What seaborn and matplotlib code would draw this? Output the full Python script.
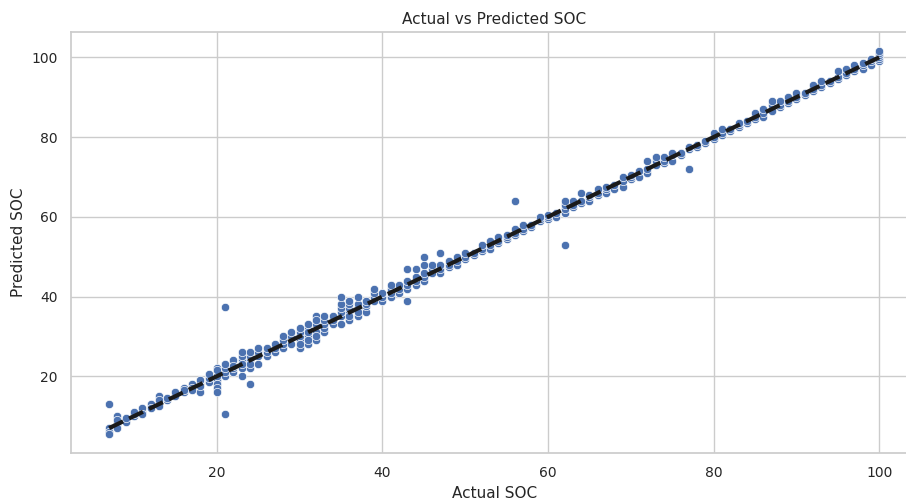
import matplotlib
matplotlib.use("Agg")
import matplotlib.pyplot as plt
import pandas as pd
import seaborn as sns

actual_soc = (
    [7] * 4 + [8] * 4 + [9] * 3 + [10] * 3 + [11] * 3 + [12] * 3 + [13] * 4
    + [14] * 2 + [15] * 2 + [16] * 3 + [17] * 3 + [18] * 4 + [19] * 4
    + [20] * 8 + [21] * 6 + [22] * 5 + [23] * 6 + [24] * 6 + [25] * 4
    + [26] * 3 + [27] * 3 + [28] * 4 + [29] * 3 + [30] * 6 + [31] * 6
    + [32] * 6 + [33] * 5 + [34] * 3 + [35] * 6 + [36] * 6 + [37] * 5
    + [38] * 4 + [39] * 4 + [40] * 3 + [41] * 4 + [42] * 3 + [43] * 5
    + [44] * 4 + [45] * 5 + [46] * 3 + [47] * 4 + [48] * 3 + [49] * 3
    + [50] * 3 + [51] * 2 + [52] * 3 + [53] * 3 + [54] * 3 + [55] * 3
    + [56] * 4 + [57] * 3 + [58] * 2 + [59] * 3 + [60] * 3 + [61] * 2
    + [62] * 5 + [63] * 3 + [64] * 3 + [65] * 3 + [66] * 3 + [67] * 3
    + [68] * 2 + [69] * 3 + [70] * 3 + [71] * 2 + [72] * 3 + [73] * 3
    + [74] * 3 + [75] * 3 + [76] * 2 + [77] * 3 + [78] * 2 + [79] * 2
    + [80] * 3 + [81] * 3 + [82] * 2 + [83] * 3 + [84] * 2 + [85] * 3
    + [86] * 3 + [87] * 3 + [88] * 3 + [89] * 3 + [90] * 3 + [91] * 2
    + [92] * 3 + [93] * 3 + [94] * 2 + [95] * 3 + [96] * 3 + [97] * 3
    + [98] * 3 + [99] * 3 + [100] * 6
)

predicted_soc = [
    13, 7, 6, 5.5,
    10, 8, 7, 9,
    9, 8.5, 9.5,
    10, 10.5, 11,
    11, 12, 10.5,
    12.5, 13, 12,
    15, 13, 12.5, 14,
    14, 14.5,
    15, 16,
    16, 17, 16.5,
    18, 17, 16.5,
    16, 18, 19, 17.5,
    20, 18.5, 19.5, 20.5,
    22, 21, 19, 18, 17, 16, 20, 21.5,
    37.3, 10.5, 20, 21, 22, 23,
    21, 22, 23, 24, 22.5,
    20, 22, 24, 25, 26, 23,
    18, 22, 24, 25, 26, 23,
    23, 25, 26, 27,
    25, 26, 27,
    26, 27, 28,
    27, 28, 29, 30,
    28, 30, 31,
    27, 29, 30, 31, 32, 28,
    28, 30, 32, 33, 29, 31,
    29, 31, 33, 35, 30, 34,
    31, 32, 33, 34, 35,
    33, 34, 35,
    33, 35, 36, 37, 38, 40,
    34, 36, 37, 38, 39, 35,
    35, 37, 38, 40, 36,
    36, 37.5, 38, 39,
    39, 40, 41, 42,
    39, 40, 41,
    40, 41, 42, 43,
    41, 42, 43,
    39, 42, 43, 44, 47,
    43, 44, 45, 47,
    44, 45, 46, 48, 50,
    46, 47, 48,
    46, 47, 48, 51,
    47.5, 48, 49,
    48, 49, 50,
    49.5, 50, 51,
    50.5, 51,
    51.5, 52, 53,
    52, 53, 54,
    53.5, 54, 55,
    54.5, 55, 55.5,
    64, 55.5, 56, 57,
    56.5, 57, 58,
    57.5, 58,
    59, 59.5, 60,
    59.5, 60, 60.5,
    60, 61,
    53, 61, 62, 63, 64,
    62.5, 63, 64,
    63.5, 64, 66,
    64, 65, 65.5,
    65.5, 66, 67,
    66, 67, 67.5,
    67, 68,
    67.5, 69, 70,
    69.5, 70, 70.5,
    70, 71.5,
    71, 72, 74,
    73, 74, 75,
    73.5, 74, 75,
    74, 75.5, 76,
    75.5, 76,
    72, 77, 77.5,
    77.5, 78,
    78.5, 79,
    79.5, 80, 81,
    80.5, 81, 82,
    81.5, 82,
    82.5, 83, 83.5,
    83.5, 84,
    84.5, 85, 86,
    85, 86, 87,
    86.5, 88, 89,
    87.5, 88, 89,
    88.5, 89, 90,
    89.5, 90, 91,
    90.5, 91,
    91.5, 92, 93,
    92.5, 93, 94,
    93.5, 94,
    94.5, 95, 96.5,
    95.5, 96, 97,
    96.5, 97, 98,
    97, 98, 98.5,
    98, 99, 99.5,
    99, 99.5, 100, 100.5, 101, 101.5,
]

df = pd.DataFrame({"actual": actual_soc, "predicted": predicted_soc})

sns.set_theme(style="whitegrid")
plt.rcParams["font.family"] = ["DejaVu Sans"]

fig = plt.figure(figsize=(9.06, 5.03), dpi=100)
ax = fig.add_axes([0.078, 0.099, 0.935, 0.837])

sns.scatterplot(data=df, x="actual", y="predicted", ax=ax, s=36)

lo, hi = df["actual"].min(), df["actual"].max()
ax.plot([lo, hi], [lo, hi], "k--", lw=3)

ax.set_title("Actual vs Predicted SOC", fontsize=11)
ax.set_xlabel("Actual SOC", fontsize=11)
ax.set_ylabel("Predicted SOC", fontsize=11)
ax.tick_params(labelsize=10)

fig.savefig("out.png", dpi=100)
